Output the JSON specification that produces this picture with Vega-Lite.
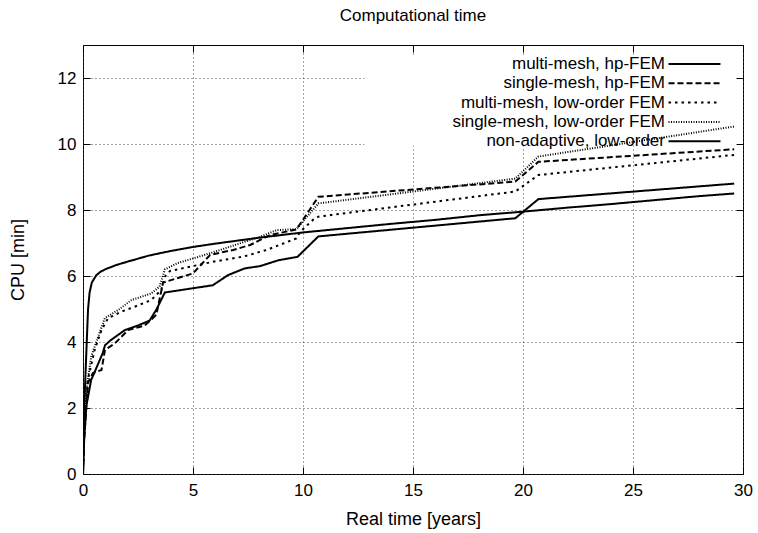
{
  "$schema": "https://vega.github.io/schema/vega-lite/v6.json",
  "autosize": "none",
  "width": 660,
  "height": 429,
  "padding": {"left": 83, "top": 45, "right": 15, "bottom": 59},
  "background": "white",
  "title": {"text": "Computational time", "fontSize": 17, "font": "Liberation Sans", "fontWeight": "normal", "color": "black", "offset": 20, "anchor": "middle"},
  "config": {
    "view": {"stroke": "black", "strokeWidth": 1},
    "font": "Liberation Sans",
    "axis": {
      "labelFont": "Liberation Sans", "titleFont": "Liberation Sans",
      "labelFontSize": 17, "titleFontSize": 18, "labelColor": "black", "titleColor": "black",
      "titleFontWeight": "normal", "domain": false, "tickColor": "black", "tickSize": -7,
      "gridColor": "#444", "gridDash": [1, 3], "gridWidth": 1
    },
    "legend": {
      "orient": "none", "legendX": 603, "legendY": 10.5, "padding": 0,
      "symbolType": "M-5,0H5", "symbolSize": 108, "symbolStrokeColor": "black", "symbolFillColor": "transparent",
      "labelAlign": "right", "labelOffset": -38, "labelFont": "Liberation Sans",
      "labelFontSize": 17, "labelColor": "black", "rowPadding": 1.3, "symbolOffset": 0, "labelLimit": 0
    }
  },
  "datasets": {
    "curves": [
      {"series": "multi-mesh, hp-FEM", "t": 0, "cpu": 0},
      {"series": "multi-mesh, hp-FEM", "t": 0.05, "cpu": 1.0},
      {"series": "multi-mesh, hp-FEM", "t": 0.15, "cpu": 2.05},
      {"series": "multi-mesh, hp-FEM", "t": 0.37, "cpu": 2.85},
      {"series": "multi-mesh, hp-FEM", "t": 0.6, "cpu": 3.2},
      {"series": "multi-mesh, hp-FEM", "t": 0.9, "cpu": 3.67},
      {"series": "multi-mesh, hp-FEM", "t": 1.0, "cpu": 3.9},
      {"series": "multi-mesh, hp-FEM", "t": 1.27, "cpu": 4.06},
      {"series": "multi-mesh, hp-FEM", "t": 1.9, "cpu": 4.36},
      {"series": "multi-mesh, hp-FEM", "t": 2.5, "cpu": 4.5},
      {"series": "multi-mesh, hp-FEM", "t": 3.03, "cpu": 4.65},
      {"series": "multi-mesh, hp-FEM", "t": 3.35, "cpu": 5.0},
      {"series": "multi-mesh, hp-FEM", "t": 3.72, "cpu": 5.5},
      {"series": "multi-mesh, hp-FEM", "t": 5.9, "cpu": 5.72},
      {"series": "multi-mesh, hp-FEM", "t": 6.6, "cpu": 6.03},
      {"series": "multi-mesh, hp-FEM", "t": 7.35, "cpu": 6.23},
      {"series": "multi-mesh, hp-FEM", "t": 8.05, "cpu": 6.3},
      {"series": "multi-mesh, hp-FEM", "t": 8.9, "cpu": 6.48},
      {"series": "multi-mesh, hp-FEM", "t": 9.75, "cpu": 6.58},
      {"series": "multi-mesh, hp-FEM", "t": 10.7, "cpu": 7.2},
      {"series": "multi-mesh, hp-FEM", "t": 19.65, "cpu": 7.75},
      {"series": "multi-mesh, hp-FEM", "t": 20.7, "cpu": 8.33},
      {"series": "multi-mesh, hp-FEM", "t": 29.6, "cpu": 8.8},

      {"series": "single-mesh, hp-FEM", "t": 0, "cpu": 0},
      {"series": "single-mesh, hp-FEM", "t": 0.05, "cpu": 1.0},
      {"series": "single-mesh, hp-FEM", "t": 0.22, "cpu": 2.75},
      {"series": "single-mesh, hp-FEM", "t": 0.45, "cpu": 3.06},
      {"series": "single-mesh, hp-FEM", "t": 0.84, "cpu": 3.15},
      {"series": "single-mesh, hp-FEM", "t": 1.0, "cpu": 3.76},
      {"series": "single-mesh, hp-FEM", "t": 1.45, "cpu": 3.96},
      {"series": "single-mesh, hp-FEM", "t": 2.05, "cpu": 4.36},
      {"series": "single-mesh, hp-FEM", "t": 2.8, "cpu": 4.5},
      {"series": "single-mesh, hp-FEM", "t": 3.33, "cpu": 4.82},
      {"series": "single-mesh, hp-FEM", "t": 3.64, "cpu": 5.8},
      {"series": "single-mesh, hp-FEM", "t": 5.0, "cpu": 6.08},
      {"series": "single-mesh, hp-FEM", "t": 5.78, "cpu": 6.64},
      {"series": "single-mesh, hp-FEM", "t": 6.83, "cpu": 6.79},
      {"series": "single-mesh, hp-FEM", "t": 7.6, "cpu": 6.94},
      {"series": "single-mesh, hp-FEM", "t": 8.5, "cpu": 7.24},
      {"series": "single-mesh, hp-FEM", "t": 9.7, "cpu": 7.41},
      {"series": "single-mesh, hp-FEM", "t": 10.7, "cpu": 8.4},
      {"series": "single-mesh, hp-FEM", "t": 19.65, "cpu": 8.86},
      {"series": "single-mesh, hp-FEM", "t": 20.7, "cpu": 9.46},
      {"series": "single-mesh, hp-FEM", "t": 29.6, "cpu": 9.84},

      {"series": "multi-mesh, low-order FEM", "t": 0, "cpu": 0},
      {"series": "multi-mesh, low-order FEM", "t": 0.05, "cpu": 1.2},
      {"series": "multi-mesh, low-order FEM", "t": 0.22, "cpu": 2.85},
      {"series": "multi-mesh, low-order FEM", "t": 0.53, "cpu": 3.76},
      {"series": "multi-mesh, low-order FEM", "t": 0.84, "cpu": 4.36},
      {"series": "multi-mesh, low-order FEM", "t": 1.14, "cpu": 4.72},
      {"series": "multi-mesh, low-order FEM", "t": 1.75, "cpu": 4.92},
      {"series": "multi-mesh, low-order FEM", "t": 2.35, "cpu": 5.07},
      {"series": "multi-mesh, low-order FEM", "t": 3.1, "cpu": 5.27},
      {"series": "multi-mesh, low-order FEM", "t": 3.56, "cpu": 5.58},
      {"series": "multi-mesh, low-order FEM", "t": 3.72, "cpu": 5.98},
      {"series": "multi-mesh, low-order FEM", "t": 3.95, "cpu": 6.15},
      {"series": "multi-mesh, low-order FEM", "t": 5.9, "cpu": 6.43},
      {"series": "multi-mesh, low-order FEM", "t": 7.3, "cpu": 6.59},
      {"series": "multi-mesh, low-order FEM", "t": 8.35, "cpu": 6.79},
      {"series": "multi-mesh, low-order FEM", "t": 9.7, "cpu": 7.14},
      {"series": "multi-mesh, low-order FEM", "t": 9.87, "cpu": 7.34},
      {"series": "multi-mesh, low-order FEM", "t": 10.45, "cpu": 7.7},
      {"series": "multi-mesh, low-order FEM", "t": 10.7, "cpu": 7.8},
      {"series": "multi-mesh, low-order FEM", "t": 19.65, "cpu": 8.56},
      {"series": "multi-mesh, low-order FEM", "t": 20.7, "cpu": 9.06},
      {"series": "multi-mesh, low-order FEM", "t": 29.6, "cpu": 9.67},

      {"series": "single-mesh, low-order FEM", "t": 0, "cpu": 0},
      {"series": "single-mesh, low-order FEM", "t": 0.05, "cpu": 1.5},
      {"series": "single-mesh, low-order FEM", "t": 0.15, "cpu": 2.55},
      {"series": "single-mesh, low-order FEM", "t": 0.37, "cpu": 3.55},
      {"series": "single-mesh, low-order FEM", "t": 0.69, "cpu": 4.16},
      {"series": "single-mesh, low-order FEM", "t": 0.99, "cpu": 4.72},
      {"series": "single-mesh, low-order FEM", "t": 1.6, "cpu": 4.97},
      {"series": "single-mesh, low-order FEM", "t": 2.2, "cpu": 5.27},
      {"series": "single-mesh, low-order FEM", "t": 3.1, "cpu": 5.47},
      {"series": "single-mesh, low-order FEM", "t": 3.48, "cpu": 5.68},
      {"series": "single-mesh, low-order FEM", "t": 3.72, "cpu": 6.2},
      {"series": "single-mesh, low-order FEM", "t": 4.3, "cpu": 6.39},
      {"series": "single-mesh, low-order FEM", "t": 5.78, "cpu": 6.69},
      {"series": "single-mesh, low-order FEM", "t": 8.05, "cpu": 7.19},
      {"series": "single-mesh, low-order FEM", "t": 8.8, "cpu": 7.39},
      {"series": "single-mesh, low-order FEM", "t": 9.7, "cpu": 7.42},
      {"series": "single-mesh, low-order FEM", "t": 10.7, "cpu": 8.2},
      {"series": "single-mesh, low-order FEM", "t": 19.65, "cpu": 8.95},
      {"series": "single-mesh, low-order FEM", "t": 20.7, "cpu": 9.62},
      {"series": "single-mesh, low-order FEM", "t": 29.6, "cpu": 10.53},

      {"series": "non-adaptive, low-order", "t": 0, "cpu": 0},
      {"series": "non-adaptive, low-order", "t": 0.03, "cpu": 1.5},
      {"series": "non-adaptive, low-order", "t": 0.1, "cpu": 2.8},
      {"series": "non-adaptive, low-order", "t": 0.17, "cpu": 4.0},
      {"series": "non-adaptive, low-order", "t": 0.23, "cpu": 5.0},
      {"series": "non-adaptive, low-order", "t": 0.3, "cpu": 5.5},
      {"series": "non-adaptive, low-order", "t": 0.4, "cpu": 5.8},
      {"series": "non-adaptive, low-order", "t": 0.6, "cpu": 6.02},
      {"series": "non-adaptive, low-order", "t": 0.8, "cpu": 6.13},
      {"series": "non-adaptive, low-order", "t": 1.0, "cpu": 6.2},
      {"series": "non-adaptive, low-order", "t": 1.5, "cpu": 6.33},
      {"series": "non-adaptive, low-order", "t": 2, "cpu": 6.43},
      {"series": "non-adaptive, low-order", "t": 3, "cpu": 6.62},
      {"series": "non-adaptive, low-order", "t": 4, "cpu": 6.76},
      {"series": "non-adaptive, low-order", "t": 5, "cpu": 6.88},
      {"series": "non-adaptive, low-order", "t": 6, "cpu": 6.98},
      {"series": "non-adaptive, low-order", "t": 7, "cpu": 7.07},
      {"series": "non-adaptive, low-order", "t": 8, "cpu": 7.16},
      {"series": "non-adaptive, low-order", "t": 9, "cpu": 7.24},
      {"series": "non-adaptive, low-order", "t": 10, "cpu": 7.32},
      {"series": "non-adaptive, low-order", "t": 12, "cpu": 7.45},
      {"series": "non-adaptive, low-order", "t": 14, "cpu": 7.58},
      {"series": "non-adaptive, low-order", "t": 16, "cpu": 7.7},
      {"series": "non-adaptive, low-order", "t": 18, "cpu": 7.84},
      {"series": "non-adaptive, low-order", "t": 20, "cpu": 7.95},
      {"series": "non-adaptive, low-order", "t": 22, "cpu": 8.07},
      {"series": "non-adaptive, low-order", "t": 24, "cpu": 8.18},
      {"series": "non-adaptive, low-order", "t": 26, "cpu": 8.3},
      {"series": "non-adaptive, low-order", "t": 28, "cpu": 8.42},
      {"series": "non-adaptive, low-order", "t": 29.6, "cpu": 8.5}
    ],
    "keybox": [{"t0": 12.8, "t1": 30, "c0": 9.95, "c1": 12.7}]
  },
  "resolve": {"axis": {"x": "independent", "y": "independent"}},
  "layer": [
    {
      "data": {"name": "keybox"},
      "mark": {"type": "rect", "fill": "white", "stroke": null},
      "encoding": {
        "x": {"field": "t0", "type": "quantitative", "scale": {"domain": [0, 30], "nice": false},
              "axis": {"orient": "bottom", "values": [0, 5, 10, 15, 20, 25, 30], "grid": true, "title": "Real time [years]", "labelPadding": 15, "titlePadding": 12, "labelFlush": false}},
        "x2": {"field": "t1"},
        "y": {"field": "c0", "type": "quantitative", "scale": {"domain": [0, 13], "nice": false, "zero": true},
              "axis": {"orient": "left", "values": [0, 2, 4, 6, 8, 10, 12], "grid": true, "title": "CPU [min]", "labelPadding": 14, "titlePadding": 30}},
        "y2": {"field": "c1"}
      }
    },
    {
      "data": {"name": "curves"},
      "mark": {"type": "line", "color": "black", "strokeCap": "butt", "clip": true},
      "encoding": {
        "x": {"field": "t", "type": "quantitative",
              "axis": {"orient": "top", "values": [0, 5, 10, 15, 20, 25, 30], "grid": false, "labels": false, "title": null, "zindex": 1}},
        "y": {"field": "cpu", "type": "quantitative",
              "axis": {"orient": "right", "values": [0, 2, 4, 6, 8, 10, 12], "grid": false, "labels": false, "title": null, "zindex": 1}},
        "strokeDash": {"field": "series", "type": "nominal",
          "scale": {"domain": ["multi-mesh, hp-FEM", "single-mesh, hp-FEM", "multi-mesh, low-order FEM", "single-mesh, low-order FEM", "non-adaptive, low-order"],
                    "range": [[1, 0], [6, 3], [2.5, 4], [1, 1.5], [1, 0]]},
          "legend": {"title": null}},
        "strokeWidth": {"field": "series", "type": "nominal",
          "scale": {"domain": ["multi-mesh, hp-FEM", "single-mesh, hp-FEM", "multi-mesh, low-order FEM", "single-mesh, low-order FEM", "non-adaptive, low-order"],
                    "range": [2, 2, 2, 1, 1]},
          "legend": {"title": null}},
        "order": {"field": "t", "type": "quantitative"}
      }
    }
  ]
}
